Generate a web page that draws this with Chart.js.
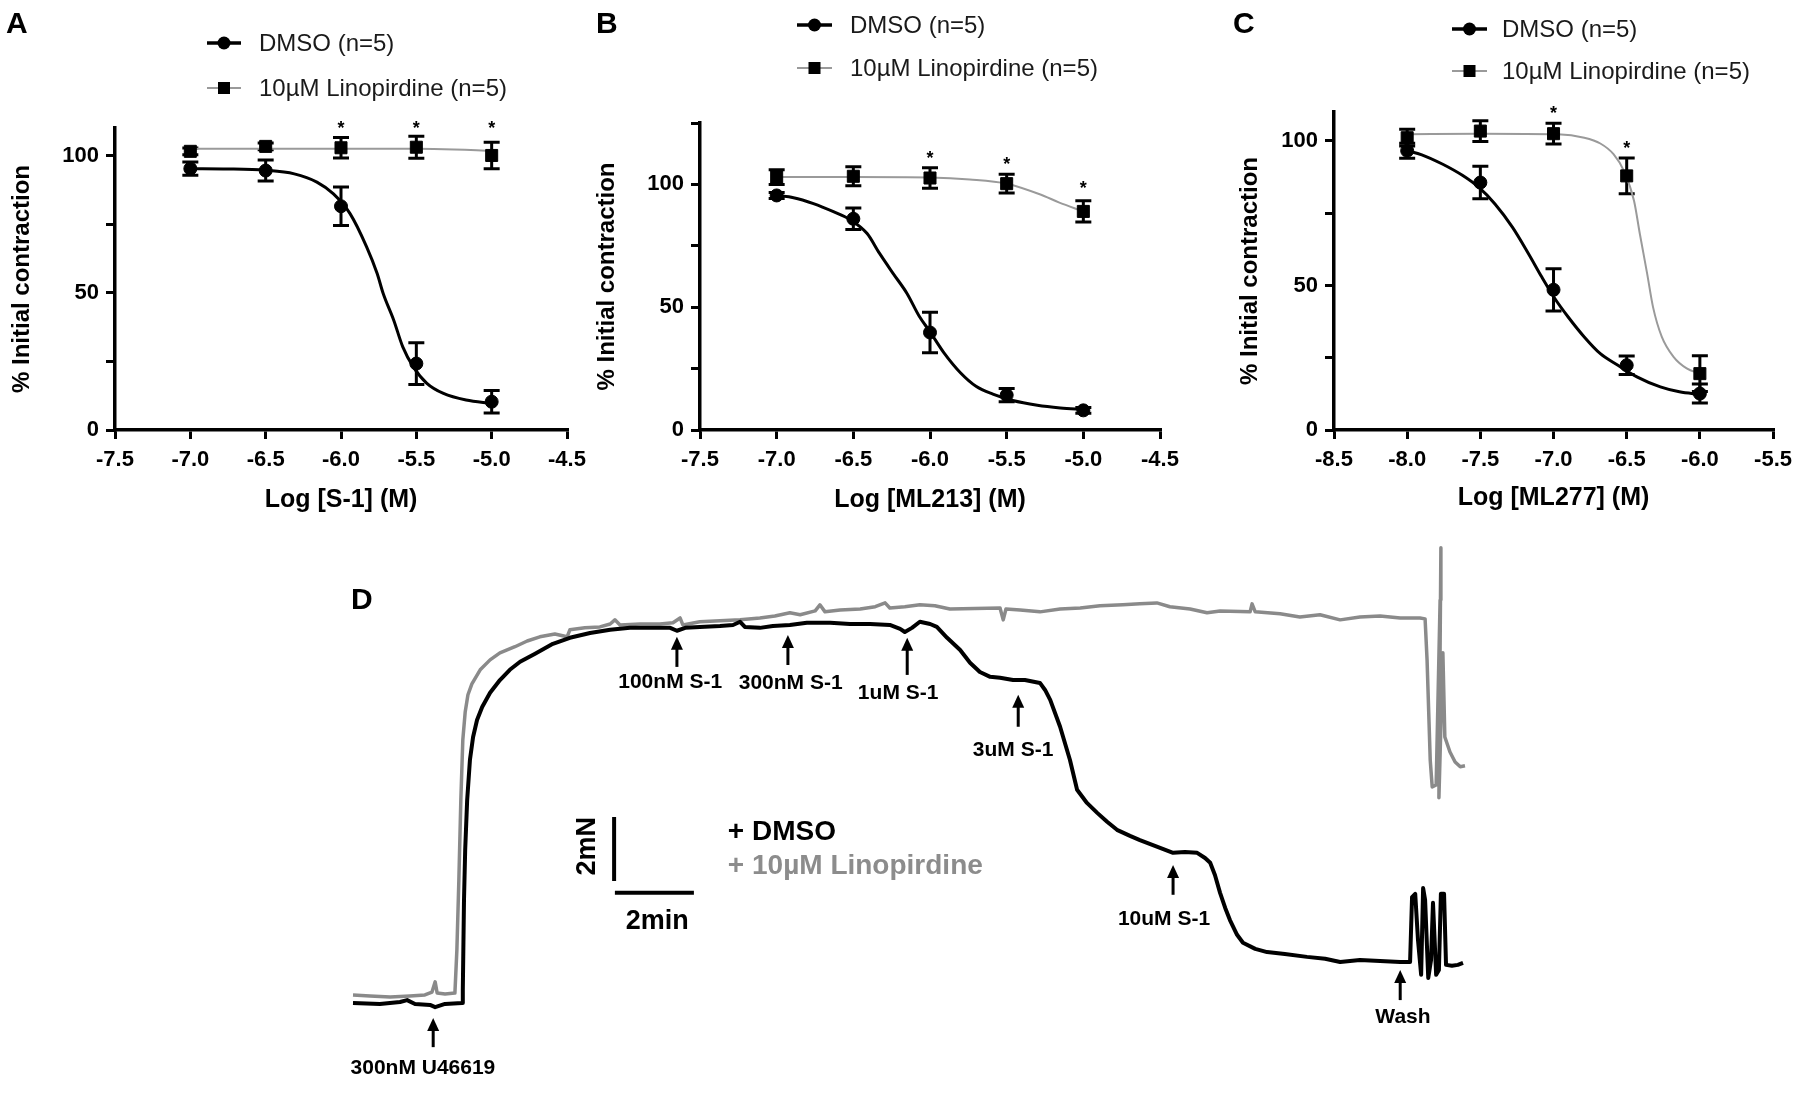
<!DOCTYPE html>
<html><head><meta charset="utf-8">
<script src="https://cdn.jsdelivr.net/npm/chart.js@4.4.1/dist/chart.umd.min.js"></script>
<style>
html,body{margin:0;padding:0;background:#fff;}
body{width:1800px;height:1102px;position:relative;overflow:hidden;font-family:"Liberation Sans",Arial,Helvetica,sans-serif;}
canvas{position:absolute;}
.lbl{position:absolute;font-weight:bold;font-size:30px;line-height:30px;color:#000;}
</style></head><body>
<canvas id="cA" width="600" height="530" style="left:0;top:0"></canvas>
<canvas id="cB" width="640" height="530" style="left:560px;top:0"></canvas>
<canvas id="cC" width="580" height="530" style="left:1220px;top:0"></canvas>
<canvas id="cD" width="1140" height="582" style="left:340px;top:520px"></canvas>
<div class="lbl" style="left:6px;top:8px">A</div>
<div class="lbl" style="left:596px;top:8px">B</div>
<div class="lbl" style="left:1233px;top:8px">C</div>
<div class="lbl" style="left:351px;top:584px">D</div>
<script>
// ---------------- Panel A : S-1 ----------------
const concA = [-7.0, -6.5, -6.0, -5.5, -5.0];
const dmsoMeanA = [95.2, 94.5, 81.5, 24.2, 10.3];
const dmsoSemA  = [2.4, 3.8, 7.0, 7.6, 4.1];
const linoMeanA = [101.5, 103.3, 102.8, 103.0, 100.0];
const linoSemA  = [1.2, 1.2, 3.7, 4.0, 4.8];
const starsA = [[-6.0, 111.5], [-5.5, 111.5], [-5.0, 111.5]];
const dmsoFitA = [[-7.0,95.2],[-6.75,95.1],[-6.5,94.6],[-6.31,93.3],[-6.16,90.3],[-6.05,86],[-5.94,78.8],[-5.83,66.7],[-5.76,57],[-5.72,49.7],[-5.65,40],[-5.59,30.3],[-5.52,23],[-5.43,17],[-5.32,13.3],[-5.17,10.9],[-5.0,9.7]];
const linoFitA = [[-7.0,102.4],[-6.5,102.4],[-6.0,102.4],[-5.5,102.4],[-5.25,102.2],[-5.1,101.9],[-5.0,101.6]];

// ---------------- Panel B : ML213 ----------------
const concB = [-7.0, -6.5, -6.0, -5.5, -5.0];
const dmsoMeanB = [95.5, 86.0, 39.7, 14.2, 8.0];
const dmsoSemB  = [1.2, 4.4, 8.2, 2.7, 1.2];
const linoMeanB = [103.0, 103.3, 102.6, 100.3, 89.0];
const linoSemB  = [3.0, 3.9, 4.2, 3.8, 4.3];
const starsB = [[-6.0, 112.5], [-5.5, 110], [-5.0, 100.3]];
const dmsoFitB = [[-7.0,95.5],[-6.89,94.6],[-6.76,92.2],[-6.63,88.9],[-6.52,85.6],[-6.41,80],[-6.33,72],[-6.24,63.7],[-6.15,55.6],[-6.07,46.3],[-6.0,40],[-5.91,31.5],[-5.8,23.2],[-5.7,17.8],[-5.59,14.6],[-5.46,12],[-5.3,10.1],[-5.15,9],[-5.0,8.3]];
const linoFitB = [[-7.0,103],[-6.5,103],[-6.0,102.8],[-5.74,102],[-5.5,100.3],[-5.28,95.9],[-5.16,92.7],[-5.0,89]];

// ---------------- Panel C : ML277 ----------------
const concC = [-8.0, -7.5, -7.0, -6.5, -6.0];
const dmsoMeanC = [96.6, 85.6, 48.5, 22.4, 12.6];
const dmsoSemC  = [2.6, 5.6, 7.3, 3.2, 3.3];
const linoMeanC = [101.1, 103.4, 102.5, 87.9, 19.5];
const linoSemC  = [2.9, 3.6, 3.6, 6.2, 6.2];
const starsC = [[-7.0, 111], [-6.5, 98.9]];
const dmsoFitC = [[-8.0,96.6],[-7.9,95.2],[-7.76,92],[-7.62,88],[-7.51,83.9],[-7.4,78.2],[-7.28,70.1],[-7.17,60.9],[-7.08,52.9],[-6.99,45.4],[-6.9,39.1],[-6.79,32.2],[-6.68,26.4],[-6.56,22.4],[-6.43,18.4],[-6.27,14.9],[-6.14,13.2],[-6.0,12.3]];
const linoFitC = [[-8.0,102.3],[-7.49,102.5],[-6.97,102.3],[-6.79,101.1],[-6.68,99.1],[-6.59,95.4],[-6.52,89.7],[-6.45,79.3],[-6.41,67.8],[-6.36,54],[-6.32,42.5],[-6.26,32.2],[-6.18,25.3],[-6.09,21.3],[-6.0,19.5]];

const seriesNames = ['DMSO (n=5)', '10\u00b5M Linopirdine (n=5)'];

// ---------------- Panel D : force traces (time in min, force in mN) ----------------
const dmsoTrace = [[0,0],[0.68,-0.03],[1.19,0.03],[1.37,0.09],[1.57,-0.03],[1.95,-0.06],[2.08,-0.13],[2.33,-0.03],[2.76,0],[2.78,0.41],[2.81,3.22],[2.84,4.78],[2.89,6.34],[2.96,7.59],[3.04,8.31],[3.14,8.84],[3.27,9.25],[3.47,9.69],[3.72,10.09],[3.97,10.41],[4.23,10.66],[4.61,10.91],[5.06,11.22],[5.49,11.41],[6.00,11.56],[6.51,11.66],[7.01,11.72],[7.52,11.72],[8.03,11.72],[8.20,11.63],[8.41,11.72],[8.78,11.75],[9.29,11.78],[9.62,11.81],[9.80,11.91],[9.92,11.75],[10.30,11.72],[10.63,11.78],[11.06,11.81],[11.49,11.88],[12.08,11.88],[12.58,11.84],[13.09,11.84],[13.59,11.81],[13.85,11.69],[13.97,11.59],[14.15,11.72],[14.35,11.91],[14.61,11.84],[14.78,11.75],[15.04,11.41],[15.37,11.03],[15.62,10.63],[15.87,10.34],[16.13,10.19],[16.38,10.16],[16.71,10.09],[17.01,10.09],[17.39,10.0],[17.52,9.78],[17.65,9.47],[17.90,8.63],[18.15,7.59],[18.33,6.66],[18.58,6.25],[18.84,5.94],[19.09,5.66],[19.34,5.41],[19.67,5.22],[19.92,5.09],[20.30,4.91],[20.76,4.69],[21.06,4.72],[21.37,4.69],[21.57,4.53],[21.70,4.38],[21.82,4.0],[21.95,3.44],[22.08,2.97],[22.20,2.59],[22.38,2.13],[22.53,1.88],[22.84,1.69],[23.14,1.59],[23.59,1.53],[24.15,1.44],[24.61,1.38],[24.99,1.28],[25.49,1.34],[26.00,1.31],[26.51,1.28],[26.76,1.28],[26.81,3.31],[26.89,3.41],[26.96,1.97],[27.04,0.88],[27.09,3.59],[27.14,3.22],[27.22,0.78],[27.29,1.34],[27.34,3.13],[27.42,0.88],[27.49,1.03],[27.54,3.41],[27.62,3.41],[27.67,1.19],[27.82,1.16],[27.97,1.19],[28.10,1.25]];
const linoTrace = [[0,0.25],[0.43,0.22],[0.94,0.19],[1.44,0.22],[1.82,0.25],[2.0,0.34],[2.08,0.66],[2.13,0.31],[2.33,0.28],[2.58,0.31],[2.63,1.66],[2.68,3.84],[2.73,6.34],[2.78,8.22],[2.84,9.09],[2.91,9.63],[3.01,9.97],[3.22,10.41],[3.47,10.72],[3.72,10.94],[4.10,11.13],[4.41,11.31],[4.73,11.44],[5.11,11.53],[5.42,11.44],[5.49,11.66],[5.87,11.72],[6.25,11.75],[6.51,11.84],[6.63,11.97],[6.76,11.81],[7.27,11.84],[7.77,11.84],[8.10,11.88],[8.28,12.03],[8.35,11.81],[8.78,11.91],[9.29,11.94],[9.80,11.97],[10.30,12.03],[10.68,12.09],[11.06,12.19],[11.32,12.13],[11.70,12.25],[11.82,12.44],[11.95,12.22],[12.33,12.28],[12.84,12.31],[13.22,12.38],[13.47,12.5],[13.59,12.34],[13.97,12.38],[14.35,12.44],[14.73,12.41],[15.11,12.31],[16.38,12.34],[16.46,11.97],[16.53,12.31],[16.89,12.28],[17.39,12.22],[17.90,12.31],[18.41,12.34],[18.91,12.41],[19.49,12.44],[19.92,12.47],[20.35,12.5],[20.68,12.38],[21.19,12.31],[21.62,12.19],[21.95,12.25],[22.71,12.22],[22.76,12.47],[22.84,12.22],[23.47,12.16],[23.97,12.06],[24.48,12.13],[24.99,11.97],[25.49,12.06],[26.0,12.09],[26.51,12.03],[27.01,12.03],[27.14,12.0],[27.19,10.72],[27.27,7.59],[27.32,6.75],[27.42,6.81],[27.52,12.59],[27.54,14.22],[27.49,6.41],[27.59,10.94],[27.64,8.31],[27.77,7.84],[27.90,7.53],[28.03,7.38],[28.15,7.41]];
const drugTimes  = [2.03, 8.20, 11.01, 14.03, 16.84, 20.76, 26.51];
const drugLabels = ['300nM U46619', '100nM S-1', '300nM S-1', '1uM S-1', '3uM S-1', '10uM S-1', 'Wash'];
const arrowTipF  = [-0.47, 11.44, 11.5, 11.41, 9.63, 4.31, 1.03];
const arrowTailF = [-1.38, 10.5, 10.56, 10.25, 8.63, 3.38, 0.09];
const labelT = [1.77, 8.03, 11.08, 13.80, 16.71, 20.53, 26.58];
const labelF = [-2.03, 10.03, 10.0, 9.69, 7.91, 2.63, -0.44];
const scaleBarForce = [[6.61, 3.81], [6.61, 5.81]];   // 2 mN
const scaleBarTime  = [[6.63, 3.44], [8.63, 3.44]];   // 2 min
const traceNames = ['+ DMSO', '+ 10\u00b5M Linopirdine'];

// ---------------- helpers ----------------
const FONT = '"Liberation Sans", Arial, Helvetica, sans-serif';
Chart.defaults.font.family = FONT;
Chart.defaults.color = '#000';
const xy = arr => arr.map(p => ({x: p[0], y: p[1]}));
const pts = (xs, ys) => xs.map((x, i) => ({x, y: ys[i]}));

function makeDoseChart(o) {
  const W = o.width, H = o.height, A = o.area;
  const errs = [{x: o.conc, m: o.dmsoMean, s: o.dmsoSem}, {x: o.conc, m: o.linoMean, s: o.linoSem}];
  const extras = {
    id: 'extras',
    beforeDatasetsDraw(chart) {
      const {ctx, scales: {x, y}} = chart;
      ctx.save(); ctx.strokeStyle = '#000'; ctx.lineWidth = 3;
      errs.forEach(e => e.x.forEach((xv, i) => {
        const px = x.getPixelForValue(xv);
        const t = y.getPixelForValue(e.m[i] + e.s[i]), b = y.getPixelForValue(e.m[i] - e.s[i]);
        ctx.beginPath();
        ctx.moveTo(px, t); ctx.lineTo(px, b);
        ctx.moveTo(px - 8, t); ctx.lineTo(px + 8, t);
        ctx.moveTo(px - 8, b); ctx.lineTo(px + 8, b);
        ctx.stroke();
      }));
      ctx.restore();
    },
    afterDraw(chart) {
      const {ctx, scales: {x, y}} = chart;
      ctx.save();
      ctx.fillStyle = '#000';
      ctx.font = 'bold 18px ' + FONT; ctx.textAlign = 'center'; ctx.textBaseline = 'alphabetic';
      o.stars.forEach(s => ctx.fillText('*', x.getPixelForValue(s[0]), y.getPixelForValue(s[1]) + 10));
      // legend
      const L = o.legend;
      const mid = (L.x0 + L.x1) / 2;
      ctx.lineCap = 'butt';
      ctx.strokeStyle = '#000'; ctx.lineWidth = 3.5;
      ctx.beginPath(); ctx.moveTo(L.x0, L.y1); ctx.lineTo(L.x1, L.y1); ctx.stroke();
      ctx.beginPath(); ctx.arc(mid, L.y1, 6.5, 0, Math.PI * 2); ctx.fill();
      ctx.strokeStyle = '#9a9a9a'; ctx.lineWidth = 2;
      ctx.beginPath(); ctx.moveTo(L.x0, L.y2); ctx.lineTo(L.x1, L.y2); ctx.stroke();
      ctx.fillRect(mid - 6, L.y2 - 6, 12, 12);
      ctx.fillStyle = '#1a1a1a'; ctx.font = '24px ' + FONT; ctx.textAlign = 'left'; ctx.textBaseline = 'middle';
      ctx.fillText(seriesNames[0], L.tx, L.y1 + 1);
      ctx.fillText(seriesNames[1], L.tx, L.y2 + 1);
      ctx.restore();
    }
  };
  const axisCommon = {
    grid: {drawOnChartArea: false, color: '#000', lineWidth: 3, tickLength: 9},
    border: {color: '#000', width: 3.5}
  };
  new Chart(document.getElementById(o.id), {
    type: 'line',
    data: {datasets: [
      {data: pts(o.conc, o.dmsoMean), showLine: false, pointStyle: 'circle', pointRadius: 6.5, pointBackgroundColor: '#000', pointBorderColor: '#000', order: 0},
      {data: pts(o.conc, o.linoMean), showLine: false, pointStyle: 'rect', pointRadius: 8.5, pointBackgroundColor: '#000', pointBorderColor: '#000', order: 0},
      {data: xy(o.dmsoFit), borderColor: '#000', borderWidth: 3, pointRadius: 0, cubicInterpolationMode: 'monotone', order: 1},
      {data: xy(o.linoFit), borderColor: '#9a9a9a', borderWidth: 2, pointRadius: 0, cubicInterpolationMode: 'monotone', order: 2}
    ]},
    options: {
      responsive: false, animation: false, devicePixelRatio: 1, events: [],
      layout: {padding: {left: 0, top: A.top, right: W - A.right, bottom: 0}},
      plugins: {legend: {display: false}, tooltip: {enabled: false}},
      scales: {
        x: Object.assign({type: 'linear', min: o.xmin, max: o.xmax,
          afterFit(s) { s.height = H - A.bottom; },
          ticks: {stepSize: 0.5, callback: v => v.toFixed(1), font: {size: 22, weight: 'bold'}, padding: 8, color: '#000', maxRotation: 0, autoSkip: false},
          title: {display: true, text: o.xtitle, font: {size: 25, weight: 'bold'}, padding: {top: 0, bottom: o.xtitlePad}, color: '#000'}
        }, axisCommon),
        y: Object.assign({type: 'linear', min: 0, max: o.ymax,
          afterFit(s) { s.width = A.left; },
          ticks: {stepSize: 25, includeBounds: false, callback: v => (v % 50 === 0 ? String(v) : ''), font: {size: 22, weight: 'bold'}, padding: 7, color: '#000'},
          title: {display: true, text: '% Initial contraction', font: {size: 24, weight: 'bold'}, padding: {top: o.ytitlePad, bottom: 0}, color: '#000'}
        }, axisCommon)
      }
    },
    plugins: [extras]
  });
}

makeDoseChart({id: 'cA', width: 600, height: 530, area: {left: 115, top: 128, right: 567, bottom: 430},
  conc: concA, dmsoMean: dmsoMeanA, dmsoSem: dmsoSemA, linoMean: linoMeanA, linoSem: linoSemA,
  dmsoFit: dmsoFitA, linoFit: linoFitA, stars: starsA, xmin: -7.5, xmax: -4.5, ymax: 110,
  xtitle: 'Log [S-1] (M)', xtitlePad: 15, ytitlePad: 7.6,
  legend: {x0: 207, x1: 241, y1: 43, y2: 88, tx: 259}});
makeDoseChart({id: 'cB', width: 640, height: 530, area: {left: 140, top: 123, right: 600, bottom: 430},
  conc: concB, dmsoMean: dmsoMeanB, dmsoSem: dmsoSemB, linoMean: linoMeanB, linoSem: linoSemB,
  dmsoFit: dmsoFitB, linoFit: linoFitB, stars: starsB, xmin: -7.5, xmax: -4.5, ymax: 125,
  xtitle: 'Log [ML213] (M)', xtitlePad: 15, ytitlePad: 32.6,
  legend: {x0: 237, x1: 272, y1: 25, y2: 68, tx: 290}});
makeDoseChart({id: 'cC', width: 580, height: 530, area: {left: 114, top: 112, right: 557, bottom: 430},
  conc: concC, dmsoMean: dmsoMeanC, dmsoSem: dmsoSemC, linoMean: linoMeanC, linoSem: linoSemC,
  dmsoFit: dmsoFitC, linoFit: linoFitC, stars: starsC, xmin: -8.5, xmax: -5.5, ymax: 110,
  xtitle: 'Log [ML277] (M)', xtitlePad: 17, ytitlePad: 15.6,
  legend: {x0: 232, x1: 267, y1: 29, y2: 71, tx: 282}});

// ---------------- Panel D chart ----------------
const dExtras = {
  id: 'dExtras',
  afterDatasetsDraw(chart) {
    const {ctx, scales: {x, y}} = chart;
    ctx.save();
    ctx.strokeStyle = '#000'; ctx.fillStyle = '#000'; ctx.lineWidth = 3;
    drugTimes.forEach((t, i) => {
      const px = x.getPixelForValue(t), tip = y.getPixelForValue(arrowTipF[i]), tail = y.getPixelForValue(arrowTailF[i]);
      ctx.beginPath(); ctx.moveTo(px, tail); ctx.lineTo(px, tip + 10); ctx.stroke();
      ctx.beginPath(); ctx.moveTo(px, tip); ctx.lineTo(px - 6, tip + 13); ctx.lineTo(px + 6, tip + 13); ctx.closePath(); ctx.fill();
    });
    ctx.font = 'bold 21px ' + FONT; ctx.textAlign = 'center'; ctx.textBaseline = 'middle';
    drugLabels.forEach((s, i) => ctx.fillText(s, x.getPixelForValue(labelT[i]), y.getPixelForValue(labelF[i])));
    // scale bar labels
    ctx.font = 'bold 27px ' + FONT;
    ctx.fillText('2min', x.getPixelForValue(7.70), y.getPixelForValue(2.53));
    ctx.save();
    ctx.translate(x.getPixelForValue(5.93), y.getPixelForValue(4.90));
    ctx.rotate(-Math.PI / 2);
    ctx.fillText('2mN', 0, 0);
    ctx.restore();
    // legend
    ctx.font = 'bold 28px ' + FONT; ctx.textAlign = 'left';
    ctx.fillStyle = '#000';
    ctx.fillText(traceNames[0], x.getPixelForValue(9.49), y.getPixelForValue(5.34));
    ctx.fillStyle = '#8c8c8c';
    ctx.fillText(traceNames[1], x.getPixelForValue(9.49), y.getPixelForValue(4.28));
    ctx.restore();
  }
};
new Chart(document.getElementById('cD'), {
  type: 'line',
  data: {datasets: [
    {data: xy(linoTrace), borderColor: '#8a8a8a', borderWidth: 3.5, pointRadius: 0, tension: 0, borderJoinStyle: 'round', clip: false, order: 2},
    {data: xy(dmsoTrace), borderColor: '#000', borderWidth: 4, pointRadius: 0, tension: 0, borderJoinStyle: 'round', clip: false, order: 1},
    {data: xy(scaleBarForce), borderColor: '#000', borderWidth: 4, pointRadius: 0, clip: false, order: 0},
    {data: xy(scaleBarTime), borderColor: '#000', borderWidth: 4, pointRadius: 0, clip: false, order: 0}
  ]},
  options: {
    responsive: false, animation: false, devicePixelRatio: 1, events: [],
    layout: {padding: 0},
    plugins: {legend: {display: false}, tooltip: {enabled: false}},
    scales: {
      x: {type: 'linear', display: false, min: -0.329, max: 28.53},
      y: {type: 'linear', display: false, min: -3.094, max: 15.09}
    }
  },
  plugins: [dExtras]
});
</script>
</body></html>
